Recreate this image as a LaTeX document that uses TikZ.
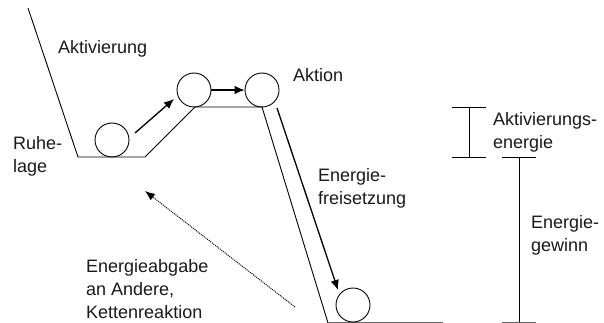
\documentclass[tikz,border=0pt]{standalone}
\usepackage{fontspec}
\setmainfont{Liberation Sans}
\usetikzlibrary{arrows.meta}
\begin{document}
\begin{tikzpicture}[x=1pt,y=-1pt,
  lbl/.style={anchor=north west,inner sep=0pt,align=left,font=\fontsize{18}{23}\selectfont,text=black!90},
  ball/.style={circle,draw,minimum size=34pt,inner sep=0pt,line width=0.9pt},
  thin/.style={line width=0.9pt},
  arr/.style={line width=1.3pt,-{Latex[length=10pt,width=8.5pt]}},
  dotarr/.style={line width=1pt,dash pattern=on 1pt off 1pt,-{Latex[length=10pt,width=8pt]}}]
\useasboundingbox (0,0) rectangle (604,323);
% landscape
\draw[thin] (28,8) -- (78,157) -- (145,157) -- (195,107) -- (262,107) -- (328,323);
\draw[thin,black!60] (328,322) -- (443,322);
% balls
\node[ball] (b1) at (112,140) {};
\node[ball] (b2) at (194,90) {};
\node[ball] (b3) at (262,90) {};
\node[ball] (b4) at (353,305) {};
% arrow endpoints
\coordinate (a1s) at (135,133);
\coordinate (a1e) at (174,99);
\coordinate (a3s) at (277,108);
\coordinate (a3e) at (338,290);
\coordinate (ds) at (295,307);
\coordinate (de) at (145,191);
\draw[arr] (a1s) -- (a1e);
\draw[arr,line width=1.1pt] (b2.east) -- (b3.west);
\draw[arr] (a3s) -- (a3e);
\draw[dotarr] (ds) -- (de);
% labels
\node[lbl] (akt) at (58,40) {Aktivierung};
\node[lbl] (aktion) at (293,68) {Aktion};
\node[lbl] (ruhe) at (13,136) {Ruhe-\\lage};
\node[lbl] (frei) at (318,168) {Energie-\\freisetzung};
\node[lbl] (abg) at (86,259) {Energieabgabe\\an Andere,\\Kettenreaktion};
\node[lbl] (aen) at (493,112) {Aktivierungs-\\energie};
\node[lbl] (gew) at (531,215) {Energie-\\gewinn};
% energy bars
\draw[thin] (452,107) -- (486,107);
\draw[thin] (469,107) -- (469,157);
\draw[thin] (452,157) -- (486,157);
\draw[thin] (502,157) -- (536,157);
\draw[thin] (519,157) -- (519,322);
\draw[thin,black!60] (502,322) -- (536,322);
\end{tikzpicture}
\end{document}
